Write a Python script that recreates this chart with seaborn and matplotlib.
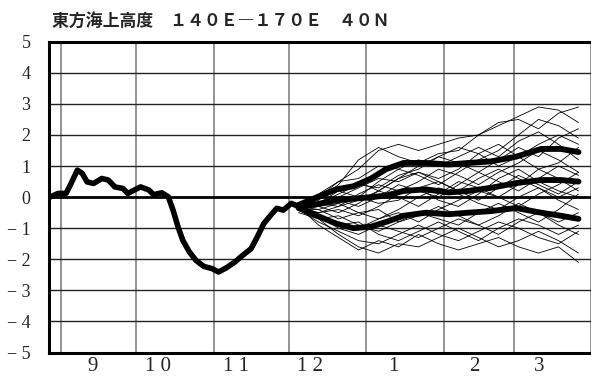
import numpy as np
import pandas as pd
import matplotlib
matplotlib.use('Agg')
import matplotlib.pyplot as plt
import seaborn as sns

# days counted from 1 Sep
month_starts = [0, 30, 61, 91, 122, 153, 181, 212]
month_labels = ['9', '1 0', '1 1', '1 2', '1', '2', '3']
label_days = [12.5, 38.7, 69.9, 99.6, 132.9, 165.3, 191.3]

# observed (analysis) series
obs_day = [-5.3, -4.5, -1.2, 2.0, 4.0, 6.5, 8.5, 10.4, 13.0, 16.3, 18.9, 21.5, 24.7, 26.7,
           27.9, 31.8, 35.1, 37.0, 40.3, 42.9, 44.8, 46.8, 48.7, 51.3, 53.9, 57.1, 60.4,
           63.0, 66.2, 69.5, 72.7, 76.0, 78.5, 81.1, 84.4, 86.3, 88.9, 92.1, 95.0]
obs_val = [0.0, 0.0, 0.12, 0.12, 0.44, 0.87, 0.76, 0.49, 0.44, 0.6, 0.55, 0.33, 0.28, 0.12,
           0.17, 0.33, 0.23, 0.08, 0.14, 0.01, -0.42, -0.96, -1.39, -1.76, -2.03, -2.23, -2.3,
           -2.41, -2.27, -2.09, -1.87, -1.66, -1.28, -0.85, -0.53, -0.36, -0.42, -0.2, -0.3]

# ensemble statistics (thick lines)
stat_day = [95, 101, 110, 117, 124, 130, 137, 146, 155, 163, 172, 182, 192, 200, 207]
upper_val = [-0.25, -0.05, 0.25, 0.35, 0.6, 0.9, 1.1, 1.1, 1.05, 1.1, 1.15, 1.3, 1.55, 1.55, 1.45]
mean_val = [-0.3, -0.25, -0.1, -0.05, 0.0, 0.05, 0.2, 0.25, 0.15, 0.2, 0.3, 0.45, 0.55, 0.55, 0.5]
lower_val = [-0.35, -0.55, -0.85, -1.0, -0.95, -0.8, -0.6, -0.5, -0.55, -0.5, -0.45, -0.35, -0.5, -0.6, -0.7]

# ensemble members (thin lines)
member_day = [95, 103, 111, 119, 127, 135, 143, 151, 159, 167, 175, 183, 191, 199, 207]
members = [
    [-0.2, 0.1, 0.5, 0.9, 1.5, 1.7, 1.5, 1.7, 1.9, 2.0, 2.3, 2.6, 2.9, 2.8, 2.4],
    [-0.3, -0.1, 0.4, 1.2, 1.6, 1.3, 1.1, 1.4, 1.5, 2.0, 2.4, 2.5, 2.2, 2.7, 2.9],
    [-0.3, 0.0, 0.5, 0.6, 1.0, 0.9, 1.2, 1.0, 1.3, 1.6, 1.3, 1.8, 2.1, 1.7, 1.2],
    [-0.4, -0.2, 0.1, 0.4, 0.3, 0.7, 0.9, 1.3, 1.1, 0.8, 1.2, 1.6, 1.3, 1.9, 2.2],
    [-0.2, -0.3, 0.0, 0.3, 0.6, 0.5, 0.8, 0.6, 0.9, 1.4, 1.7, 1.3, 0.9, 1.1, 1.6],
    [-0.3, -0.2, -0.3, 0.1, 0.4, 0.2, 0.5, 0.9, 0.7, 0.4, 0.8, 1.1, 1.5, 1.2, 0.8],
    [-0.4, -0.3, -0.1, -0.3, 0.0, 0.4, 0.2, 0.0, 0.4, 0.8, 0.5, 0.2, 0.6, 1.0, 0.7],
    [-0.3, -0.4, -0.2, 0.0, -0.2, -0.1, 0.3, 0.5, 0.2, -0.1, 0.3, 0.7, 0.4, 0.1, 0.5],
    [-0.2, -0.3, -0.5, -0.2, 0.2, 0.0, -0.3, 0.1, 0.5, 0.3, 0.0, 0.4, 0.9, 0.6, 0.2],
    [-0.3, -0.5, -0.4, -0.6, -0.3, 0.1, 0.3, -0.1, -0.3, 0.1, 0.6, 0.9, 0.5, 0.2, 0.0],
    [-0.4, -0.4, -0.7, -0.5, -0.7, -0.4, 0.0, 0.3, 0.1, -0.2, -0.4, 0.0, 0.3, -0.1, -0.4],
    [-0.3, -0.6, -0.8, -1.0, -0.7, -0.5, -0.8, -0.4, -0.1, 0.2, 0.0, -0.3, 0.1, 0.4, 0.8],
    [-0.5, -0.7, -0.6, -0.9, -1.1, -0.8, -0.5, -0.7, -0.9, -0.5, -0.2, -0.5, -0.8, -0.4, 0.1],
    [-0.3, -0.6, -1.0, -1.2, -0.9, -1.1, -1.3, -1.0, -0.7, -0.9, -1.2, -0.8, -0.5, -0.9, -1.2],
    [-0.4, -0.8, -1.1, -1.4, -1.5, -1.2, -0.9, -1.2, -1.4, -1.1, -0.8, -1.0, -1.3, -1.5, -1.1],
    [-0.2, -0.7, -1.2, -1.6, -1.8, -1.5, -1.6, -1.3, -1.0, -1.3, -1.6, -1.4, -1.1, -1.4, -1.8],
    [-0.3, -0.9, -1.3, -1.7, -1.4, -1.6, -1.2, -1.5, -1.7, -1.5, -1.3, -1.6, -1.8, -1.6, -2.1],
    [-0.4, -0.6, -0.9, -0.8, -1.2, -1.4, -1.1, -0.8, -1.1, -1.4, -1.0, -0.7, -0.9, -1.2, -0.9],
    [-0.3, -0.2, 0.2, 0.5, 0.2, 0.6, 1.0, 1.3, 1.6, 1.4, 1.0, 1.3, 1.7, 2.0, 1.7],
    [-0.2, 0.0, 0.2, 0.0, 0.5, 0.9, 0.7, 0.4, 0.8, 1.2, 1.5, 2.0, 2.5, 2.3, 1.9],
    [-0.3, -0.3, -0.2, -0.5, -0.4, -0.8, -0.6, -0.3, -0.6, -0.9, -0.6, -0.2, -0.5, -0.8, -0.5],
    [-0.4, -0.5, -0.3, -0.1, 0.2, 0.6, 0.8, 0.5, 0.2, 0.6, 0.9, 0.6, 0.3, 0.0, 0.3],
]

title = '東方海上高度　１４０Ｅ―１７０Ｅ　４０Ｎ'

sns.set_style('white')
plt.rcParams['font.family'] = ['Liberation Serif', 'DejaVu Serif']

fig = plt.figure(figsize=(5.91, 3.83), dpi=100)
ax = fig.add_axes([0.0822, 0.0796, 1 - 0.0822, 0.891 - 0.0796])

# members in long form
rows = []
for i, m in enumerate(members):
    for d, v in zip(member_day, m):
        rows.append((i, d, v))
ens = pd.DataFrame(rows, columns=['member', 'day', 'value'])
sns.lineplot(data=ens, x='day', y='value', units='member', estimator=None,
             color='black', linewidth=0.6, ax=ax, zorder=3)

for vals in (upper_val, mean_val, lower_val):
    sns.lineplot(x=stat_day, y=vals, color='black', linewidth=4.2, ax=ax, zorder=4,
                 solid_capstyle='round', solid_joinstyle='round')

sns.lineplot(x=obs_day, y=obs_val, color='black', linewidth=4.0, ax=ax, zorder=4,
             solid_capstyle='round', solid_joinstyle='round')

ax.set_xlim(-5.0, 206.0)
ax.set_ylim(-5, 5)

# horizontal grid
for yv in range(-4, 5):
    ax.axhline(yv, color='black' if yv == 0 else '#222222',
               linewidth=2.0 if yv == 0 else 1.0, zorder=2)
# vertical month lines
for d in month_starts:
    ax.axvline(d, color='#777777', linewidth=1.1, zorder=1)

ax.set_xticks(month_starts)
ax.set_xticklabels([])
ax.tick_params(axis='x', which='major', length=16, width=1.1, color='#777777', direction='out')
ax.set_xticks(label_days, minor=True)
ax.set_xticklabels(month_labels, minor=True, fontsize=15)
ax.tick_params(axis='x', which='minor', length=0, pad=3)

ax.set_yticks(range(-5, 6))
ax.set_yticklabels([str(v) if v >= 0 else '− ' + str(-v) for v in range(-5, 6)], fontsize=13)
ax.tick_params(axis='y', length=4, width=1.0, color='black', direction='out', pad=9)

for side in ('left', 'bottom', 'top'):
    ax.spines[side].set_visible(True)
    ax.spines[side].set_linewidth(2.2)
    ax.spines[side].set_color('black')
ax.spines['right'].set_visible(False)
ax.set_xlabel('')
ax.set_ylabel('')

fig.text(0.088, 0.945, title, fontsize=12.2, fontweight='bold', va='center', ha='left',
         family=['Noto Sans CJK JP', 'DejaVu Sans'])

fig.savefig('out.png', dpi=100)
